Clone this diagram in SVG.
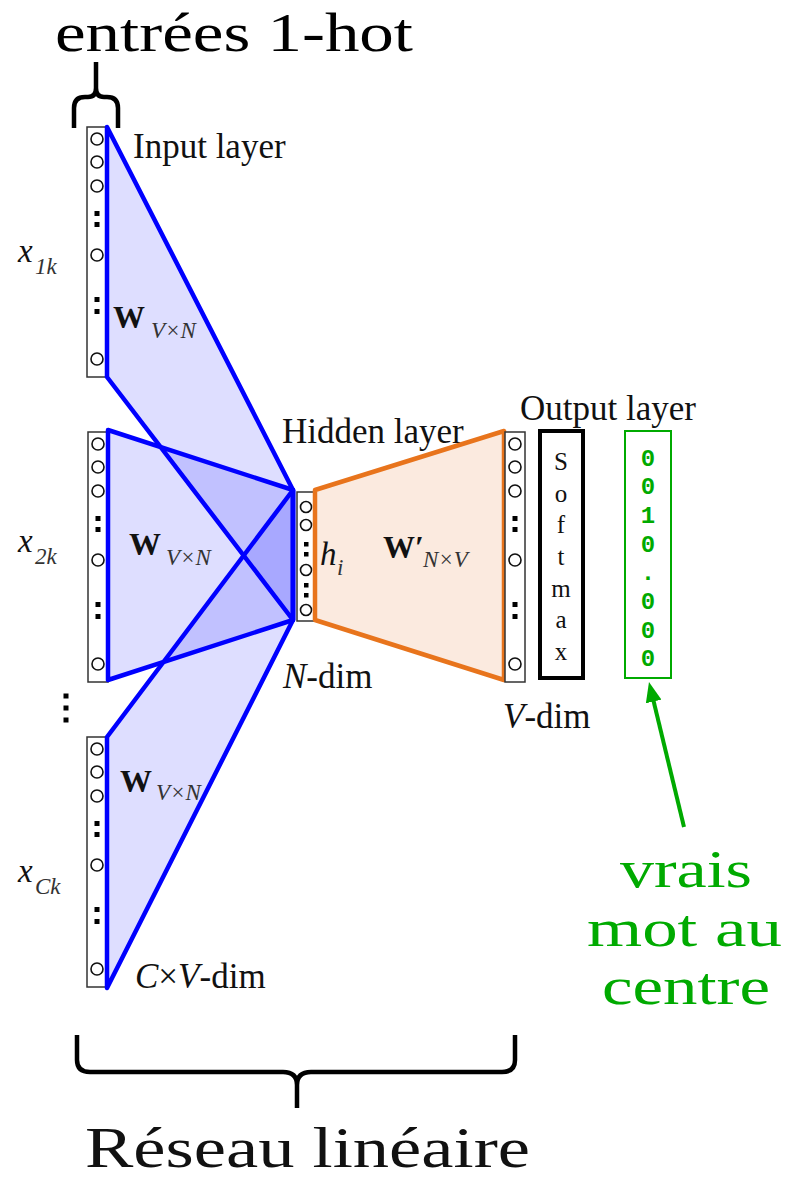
<svg xmlns="http://www.w3.org/2000/svg" xmlns:xlink="http://www.w3.org/1999/xlink" width="787" height="1182" viewBox="0 0 787 1182">
<style>
.ser{font-family:"Liberation Serif","Times New Roman",serif;fill:#111}
.lbl{font-size:35px}
.it{font-style:italic}
.wb{font-size:32px;font-weight:bold}
.sub{font-size:23px;font-style:italic;fill:#333}
.big{font-size:55px;fill:#000}
.grn{fill:#0a0}
.mono{font-family:"Liberation Mono","Courier New",monospace;font-size:24px;font-weight:bold;fill:#0a0}
.colr{fill:#fff;stroke:#333;stroke-width:1.5}
.cir{fill:#fff;stroke:#111;stroke-width:1.6}
.blue{fill:#0000ff;fill-opacity:0.13;stroke:#0000ff;stroke-width:4.5;stroke-linejoin:round}
.brace{fill:none;stroke:#000;stroke-width:4.5;stroke-linejoin:round}
</style>
<defs>
<g id="col">
<rect class="colr" x="0" y="0" width="20" height="250"/>
<circle class="cir" cx="10" cy="12" r="6"/>
<circle class="cir" cx="10" cy="35" r="6"/>
<circle class="cir" cx="10" cy="59" r="6"/>
<rect x="7.5" y="84" width="5" height="5" fill="#000"/>
<rect x="7.5" y="95" width="5" height="5" fill="#000"/>
<circle class="cir" cx="10" cy="128" r="6"/>
<rect x="7.5" y="170" width="5" height="5" fill="#000"/>
<rect x="7.5" y="182" width="5" height="5" fill="#000"/>
<circle class="cir" cx="10" cy="232" r="6"/>
</g>
<marker id="ga" viewBox="0 0 20 16" refX="2" refY="8" markerWidth="20" markerHeight="16" markerUnits="userSpaceOnUse" orient="auto">
<path d="M0,0 L20,8 L0,16 z" fill="#0a0"/>
</marker>
</defs>
<rect width="787" height="1182" fill="#fff"/>

<g id="title">
<text class="ser big" x="55" y="51" textLength="358" lengthAdjust="spacingAndGlyphs">entrées 1-hot</text>
<path class="brace" d="M74,128 L74,108 Q74,97 85,97 L88,97 Q96,97 96,88 L96,62 M96,88 Q96,97 104,97 L107,97 Q118,97 118,108 L118,128"/>
</g>

<g id="input1">
<use xlink:href="#col" href="#col" transform="translate(87,127)"/>
<text class="ser lbl" x="133" y="158">Input layer</text>
<text class="ser it" x="18" y="262" font-size="33" fill="#222">x</text>
<text class="ser sub" x="35" y="274">1k</text>
</g>
<g id="input2">
<use xlink:href="#col" href="#col" transform="translate(88,432)"/>
<text class="ser it" x="18" y="552" font-size="33" fill="#222">x</text>
<text class="ser sub" x="35" y="564">2k</text>
</g>
<g id="vdots">
<rect x="63.5" y="693.5" width="5" height="5" fill="#000"/>
<rect x="63.5" y="705.5" width="5" height="5" fill="#000"/>
<rect x="63.5" y="717.5" width="5" height="5" fill="#000"/>
</g>
<g id="input3">
<use xlink:href="#col" href="#col" transform="translate(87,737)"/>
<text class="ser it" x="18" y="882" font-size="33" fill="#222">x</text>
<text class="ser sub" x="35" y="894">Ck</text>
<text class="ser lbl" x="135" y="988"><tspan class="it">C</tspan>×<tspan class="it">V</tspan>-dim</text>
</g>

<g id="hidden">
<rect class="colr" x="297" y="492" width="18" height="129"/>
<circle class="cir" cx="306" cy="507" r="5.5"/>
<circle class="cir" cx="306" cy="525" r="5.5"/>
<rect x="304" y="542" width="4.5" height="4.5" fill="#000"/>
<rect x="304" y="552" width="4.5" height="4.5" fill="#000"/>
<circle class="cir" cx="306" cy="570" r="5.5"/>
<rect x="304" y="583" width="4.5" height="4.5" fill="#000"/>
<rect x="304" y="593" width="4.5" height="4.5" fill="#000"/>
<circle class="cir" cx="306" cy="610" r="5.5"/>
<text class="ser lbl" x="282" y="443">Hidden layer</text>
<text class="ser lbl" x="283" y="688"><tspan class="it">N</tspan>-dim</text>
</g>

<g id="connectors">
<polygon class="blue" points="107,127 293,490 293,620 107,377"/>
<polygon class="blue" points="108,430 293,490 293,620 108,680"/>
<polygon class="blue" points="107,737 293,490 293,620 107,988"/>
<polygon points="315,490 504,431 504,680 315,620" fill="#fbeadf" stroke="#e8741c" stroke-width="4.5" stroke-linejoin="round"/>
<line x1="684" y1="827" x2="653.2" y2="699.5" stroke="#0a0" stroke-width="4" marker-end="url(#ga)"/>
</g>

<g id="weights">
<text class="ser wb" x="113" y="328">W</text><text class="ser sub" x="151" y="338">V×N</text>
<text class="ser wb" x="129" y="555">W</text><text class="ser sub" x="166" y="565">V×N</text>
<text class="ser wb" x="120" y="792">W</text><text class="ser sub" x="156" y="800">V×N</text>
<text class="ser it" x="320" y="565" font-size="33">h</text><text class="ser sub" x="337" y="575">i</text>
<text class="ser wb" x="383" y="558">W′</text><text class="ser sub" x="423" y="567">N×V</text>
</g>

<g id="output">
<use xlink:href="#col" href="#col" transform="translate(505,432)"/>
<text class="ser lbl" x="520" y="420">Output layer</text>
<text class="ser lbl" x="503" y="728"><tspan class="it">V</tspan>-dim</text>
</g>

<g id="softmax">
<rect x="540" y="431" width="43" height="247" fill="#fff" stroke="#000" stroke-width="4"/>
<g class="ser" font-size="25" text-anchor="middle">
<text x="561" y="470">S</text>
<text x="561" y="501.7">o</text>
<text x="561" y="533.3">f</text>
<text x="561" y="565">t</text>
<text x="561" y="596.7">m</text>
<text x="561" y="628.3">a</text>
<text x="561" y="660">x</text>
</g>
</g>

<g id="target">
<rect x="625" y="431" width="46" height="247" fill="#fff" stroke="#0a0" stroke-width="2"/>
<g class="mono" text-anchor="middle">
<text x="648" y="465.5">0</text>
<text x="648" y="494.2">0</text>
<text x="648" y="522.9">1</text>
<text x="648" y="551.6">0</text>
<text x="648" y="580.3">.</text>
<text x="648" y="609">0</text>
<text x="648" y="637.7">0</text>
<text x="648" y="666.4">0</text>
</g>
<g class="ser grn" font-size="53">
<text x="620" y="887" textLength="132" lengthAdjust="spacingAndGlyphs" class="ser grn">vrais</text>
<text x="587" y="946" textLength="195" lengthAdjust="spacingAndGlyphs" class="ser grn">mot au</text>
<text x="602" y="1004" textLength="168" lengthAdjust="spacingAndGlyphs" class="ser grn">centre</text>
</g>
</g>

<g id="footer">
<path class="brace" d="M77,1035 L77,1060 Q77,1072 90,1072 L283,1072 Q297,1072 297,1085 L297,1108 M297,1085 Q297,1072 311,1072 L502,1072 Q515,1072 515,1060 L515,1035"/>
<text class="ser" x="85" y="1167" font-size="56" fill="#000" textLength="445" lengthAdjust="spacingAndGlyphs">Réseau linéaire</text>
</g>
</svg>
